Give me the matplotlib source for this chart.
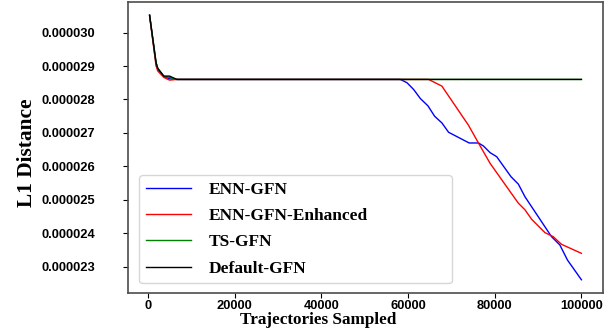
import matplotlib
matplotlib.use("Agg")
import matplotlib.pyplot as plt
from matplotlib.ticker import FormatStrFormatter

# Data (values in units of 1e-6)
enn_x = [400, 1900, 2300, 3700, 5000, 6700, 58250, 59780, 61300, 62840, 64600, 66140,
         67820, 69360, 74110, 76250, 77400, 78940, 80460, 82000, 83770, 85450,
         86990, 93100, 95030, 96780, 100000]
enn_y = [30.52, 29.05, 28.90, 28.68, 28.62, 28.60, 28.60, 28.50, 28.30, 28.03, 27.81, 27.50,
         27.30, 27.02, 26.70, 26.70, 26.61, 26.41, 26.29, 26.01, 25.69, 25.47,
         25.09, 23.90, 23.65, 23.20, 22.61]

enh_x = [400, 1900, 2300, 3700, 5000, 6700, 64760, 67820, 73950, 76250, 78940,
         85450, 86990, 88510, 91580, 93490, 95400, 100000]
enh_y = [30.50, 29.00, 28.85, 28.66, 28.58, 28.60, 28.60, 28.40, 27.23, 26.70, 26.09,
         24.90, 24.70, 24.42, 24.02, 23.90, 23.67, 23.40]

ts_x = [400, 1900, 2300, 3700, 5000, 6700, 100000]
ts_y = [30.52, 29.10, 28.93, 28.69, 28.66, 28.60, 28.60]

def_x = [400, 1900, 2300, 3700, 5000, 6700, 100000]
def_y = [30.52, 29.10, 28.93, 28.70, 28.70, 28.60, 28.60]

labels = ["ENN-GFN", "ENN-GFN-Enhanced", "TS-GFN", "Default-GFN"]

fig, ax = plt.subplots(figsize=(6.13, 3.32), dpi=100)
ax.plot(enn_x, [v * 1e-6 for v in enn_y], color='blue', lw=1, label=labels[0])
ax.plot(enh_x, [v * 1e-6 for v in enh_y], color='red', lw=1, label=labels[1])
ax.plot(ts_x, [v * 1e-6 for v in ts_y], color='green', lw=1, label=labels[2])
ax.plot(def_x, [v * 1e-6 for v in def_y], color='black', lw=1, label=labels[3])

ax.yaxis.set_major_formatter(FormatStrFormatter('%.6f'))
ax.tick_params(axis='y', pad=20)
ax.tick_params(axis='x', pad=1.5)
for lab in ax.get_xticklabels() + ax.get_yticklabels():
    lab.set_fontfamily('Liberation Sans')
    lab.set_fontweight('bold')
    lab.set_fontsize(9.3)
for s in ax.spines.values():
    s.set_color('0.3')
    s.set_linewidth(1.2)

ax.set_xlabel("Trajectories Sampled", fontsize=12.3, fontweight='bold',
              family='Liberation Serif', ha='left', va='baseline')
ax.xaxis.set_label_coords(0.2358, -0.108)
ax.set_ylabel("L1 Distance", fontsize=15.4, fontweight='bold',
              family='Liberation Serif', ha='left')
ax.yaxis.set_label_coords(-0.1916, 0.2955)
ax.legend(loc='lower left', bbox_to_anchor=(0.0238, 0.0333, 0.658, 0.3), mode='expand',
          borderaxespad=0, prop={'family': 'Liberation Serif', 'weight': 'bold', 'size': 12.5},
          handlelength=2.6, handletextpad=1.0, labelspacing=0.59, borderpad=0.37)

fig.subplots_adjust(left=0.2088, right=0.9837, top=0.994, bottom=0.1175)
fig.savefig("out.png")
